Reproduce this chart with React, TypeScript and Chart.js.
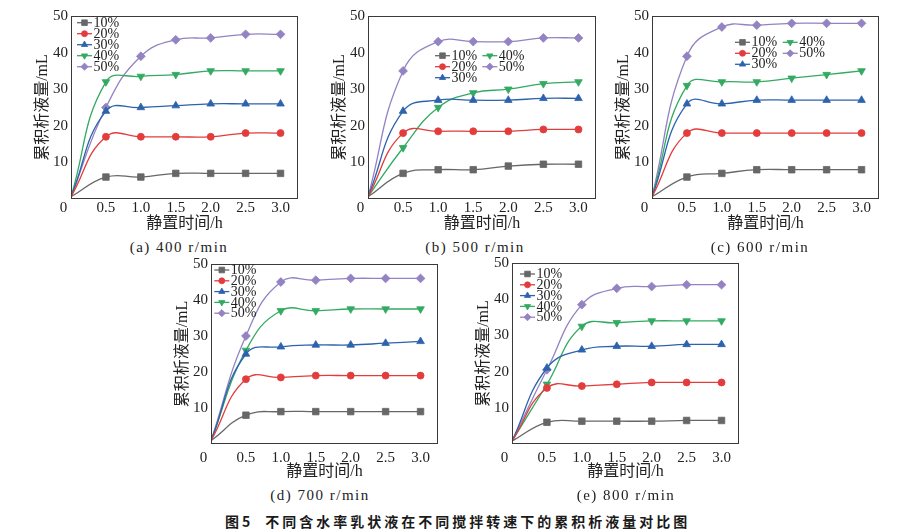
import React, { useEffect, useRef } from "react";
import { Chart, registerables } from "chart.js";
import { drawPoint } from "chart.js/helpers";

Chart.register(...registerables);

// ---------- data ----------
const hours = [0, 0.5, 1.0, 1.5, 2.0, 2.5, 3.0];
const xTickValues = [0, 0.5, 1.0, 1.5, 2.0, 2.5, 3.0];
const yTickValues = [10, 20, 30, 40, 50];
const seriesLabels = ["10%", "20%", "30%", "40%", "50%"];

// (a) 400 r/min
const a10 = [0.6, 6, 6, 7, 7, 7, 7];
const a20 = [0.6, 17, 17, 17, 17, 18, 18];
const a30 = [0.6, 24, 25, 25.5, 26, 26, 26];
const a40 = [0.6, 32, 33.5, 34, 35, 35, 35];
const a50 = [0.6, 25, 39, 43.5, 44, 45, 45];
// (b) 500 r/min
const b10 = [0.6, 7, 8, 8, 9, 9.5, 9.5];
const b20 = [0.6, 18, 18.5, 18.5, 18.5, 19, 19];
const b30 = [0.6, 24, 27, 27, 27, 27.5, 27.5];
const b40 = [0.6, 14, 25, 29, 30, 31.5, 32];
const b50 = [0.6, 35, 43, 43, 43, 44, 44];
// (c) 600 r/min
const c10 = [0.6, 6, 7, 8, 8, 8, 8];
const c20 = [0.6, 18, 18, 18, 18, 18, 18];
const c30 = [0.6, 26, 26, 27, 27, 27, 27];
const c40 = [0.6, 31, 32, 32, 33, 34, 35];
const c50 = [0.6, 39, 47, 47.5, 48, 48, 48];
// (d) 700 r/min
const d10 = [0.9, 8, 9, 9, 9, 9, 9];
const d20 = [0.9, 18, 18.5, 19, 19, 19, 19];
const d30 = [0.9, 25, 27, 27.5, 27.5, 28, 28.5];
const d40 = [0.9, 26, 37, 37, 37.5, 37.5, 37.5];
const d50 = [0.9, 30, 45, 45.5, 46, 46, 46];
// (e) 800 r/min
const e10 = [0.8, 6, 6.3, 6.3, 6.3, 6.5, 6.5];
const e20 = [0.8, 15.5, 16, 16.5, 17, 17, 17];
const e30 = [0.8, 21, 26, 27, 27, 27.5, 27.5];
const e40 = [0.8, 16.5, 32.5, 33.5, 34, 34, 34];
const e50 = [0.8, 20.5, 38.5, 43, 43.5, 44, 44];

const panelCaptions = [
  "(a) 400 r/min",
  "(b) 500 r/min",
  "(c) 600 r/min",
  "(d) 700 r/min",
  "(e) 800 r/min",
];
const xTitle = "静置时间/h";
const yTitle = "累积析液量/mL";
const figNo = "图5";
const figTitle = "不同含水率乳状液在不同搅拌转速下的累积析液量对比图";

// ---------- styles ----------
const SERIF = "'Liberation Serif', 'DejaVu Serif', serif";
const TITLE_FONT = "'Liberation Serif', 'Noto Sans CJK SC', serif";
const TEXT = "#222222";

const seriesStyles = [
  { color: "#676767", pointStyle: "rect", radius: 4.6, rotation: 0, lr: 4 },
  { color: "#e23c3c", pointStyle: "circle", radius: 3.5, rotation: 0, lr: 3 },
  { color: "#2d63ad", pointStyle: "triangle", radius: 4.4, rotation: 0, lr: 3.6 },
  { color: "#33aa62", pointStyle: "triangle", radius: 4.4, rotation: 180, lr: 3.6 },
  { color: "#9483c3", pointStyle: "rectRot", radius: 4.4, rotation: 0, lr: 3.6 },
];

type Panel = {
  series: number[][];
  caption: string;
  plot: { l: number; r: number; t: number; b: number };
  cap: { x: number; y: number };
  legend: { dx: number; dy: number; rows: number; colW: number; rowH: number };
  tickPad: number;
  xH: number;
  titlePad: number;
};

const panels: Panel[] = [
  {
    series: [a10, a20, a30, a40, a50],
    caption: panelCaptions[0],
    plot: { l: 71, r: 298, t: 16, b: 199 },
    cap: { x: 179, y: 246.5 },
    legend: { dx: 6, dy: 6.7, rows: 5, colW: 0, rowH: 11 },
    tickPad: 0,
    xH: 36,
    titlePad: 1.4,
  },
  {
    series: [b10, b20, b30, b40, b50],
    caption: panelCaptions[1],
    plot: { l: 368, r: 596, t: 16, b: 199 },
    cap: { x: 475, y: 246.5 },
    legend: { dx: 67, dy: 39.7, rows: 3, colW: 47.3, rowH: 11 },
    tickPad: 0,
    xH: 36,
    titlePad: 1.4,
  },
  {
    series: [c10, c20, c30, c40, c50],
    caption: panelCaptions[2],
    plot: { l: 652, r: 879, t: 16, b: 199 },
    cap: { x: 760, y: 246.5 },
    legend: { dx: 83, dy: 26.3, rows: 3, colW: 47.7, rowH: 11 },
    tickPad: 0,
    xH: 36,
    titlePad: 1.4,
  },
  {
    series: [d10, d20, d30, d40, d50],
    caption: panelCaptions[3],
    plot: { l: 211, r: 438, t: 264, b: 444 },
    cap: { x: 320, y: 495 },
    legend: { dx: 3.3, dy: 6, rows: 5, colW: 0, rowH: 10.8 },
    tickPad: 5,
    xH: 40,
    titlePad: 2.4,
  },
  {
    series: [e10, e20, e30, e40, e50],
    caption: panelCaptions[4],
    plot: { l: 512, r: 739, t: 263, b: 444 },
    cap: { x: 626, y: 495 },
    legend: { dx: 8, dy: 11, rows: 5, colW: 0, rowH: 10.8 },
    tickPad: 5,
    xH: 40,
    titlePad: 2.4,
  },
];

const Y_W = 50;
const PAD_TOP = 12;
const PAD_RIGHT = 12;

function ChartPanel({ p }: { p: Panel }) {
  const ref = useRef<HTMLCanvasElement | null>(null);
  const width = p.plot.r - p.plot.l + Y_W + PAD_RIGHT;
  const height = p.plot.b - p.plot.t + PAD_TOP + p.xH;

  useEffect(() => {
    if (!ref.current) return;

    const framePlugin = {
      id: "frameAndLegend",
      afterDraw(chart: any) {
        const ctx = chart.ctx;
        const { left, top, right, bottom } = chart.chartArea;
        ctx.save();
        ctx.strokeStyle = "#3a3a3a";
        ctx.lineWidth = 1;
        const L = Math.round(left) + 0.5;
        const T = Math.round(top) + 0.5;
        const R = Math.round(right) - 0.5;
        const B = Math.round(bottom) - 0.5;
        ctx.strokeRect(L, T, R - L, B - T);

        // legend
        const lg = p.legend;
        chart.data.datasets.forEach((ds: any, i: number) => {
          const st = seriesStyles[i];
          const col = Math.floor(i / lg.rows);
          const row = i % lg.rows;
          const x0 = left + lg.dx + col * lg.colW;
          const y = top + lg.dy + row * lg.rowH;
          ctx.strokeStyle = st.color;
          ctx.lineWidth = 1.3;
          ctx.beginPath();
          ctx.moveTo(x0, y);
          ctx.lineTo(x0 + 15, y);
          ctx.stroke();
          ctx.fillStyle = st.color;
          ctx.strokeStyle = st.color;
          ctx.lineWidth = 0.8;
          drawPoint(
            ctx,
            { pointStyle: st.pointStyle, rotation: st.rotation, radius: st.lr, borderWidth: 0.8 } as any,
            x0 + 7.5,
            y
          );
          ctx.fillStyle = TEXT;
          ctx.font = `14px ${SERIF}`;
          ctx.textAlign = "left";
          ctx.textBaseline = "middle";
          ctx.fillText(ds.label, x0 + 16.5, y + 0.5);
        });
        ctx.restore();
      },
    };

    const chart = new Chart(ref.current, {
      type: "line",
      data: {
        datasets: p.series.map((vals, i) => {
          const st = seriesStyles[i];
          return {
            label: seriesLabels[i],
            data: hours.map((h, k) => ({ x: h, y: vals[k] })),
            borderColor: st.color,
            backgroundColor: st.color,
            borderWidth: 1.3,
            tension: 0.45,
            fill: false,
            pointStyle: st.pointStyle as any,
            pointRotation: st.rotation,
            pointRadius: (c: any) => (c.dataIndex === 0 ? 0 : st.radius),
            pointHoverRadius: (c: any) => (c.dataIndex === 0 ? 0 : st.radius),
            pointBackgroundColor: st.color,
            pointBorderColor: st.color,
            pointBorderWidth: 0.8,
          };
        }),
      },
      options: {
        animation: false,
        responsive: true,
        maintainAspectRatio: false,
        events: [],
        layout: { padding: { left: 0, top: PAD_TOP, right: PAD_RIGHT, bottom: 0 } },
        plugins: {
          legend: { display: false },
          tooltip: { enabled: false },
          title: { display: false },
        },
        scales: {
          x: {
            type: "linear",
            min: 0,
            max: 3.25,
            grid: { display: false, drawTicks: false },
            border: { display: false },
            afterBuildTicks: (s: any) => {
              s.ticks = xTickValues.map((v) => ({ value: v }));
            },
            afterFit: (s: any) => {
              s.height = p.xH;
              s.paddingLeft = 0;
              s.paddingRight = 0;
            },
            ticks: {
              padding: p.tickPad,
              color: TEXT,
              autoSkip: false,
              maxRotation: 0,
              minRotation: 0,
              font: { family: SERIF, size: 15 },
              callback: (v: any) => (Number(v) === 0 ? "0    " : Number(v).toFixed(1)),
            },
            title: {
              display: true,
              text: xTitle,
              color: TEXT,
              font: { family: TITLE_FONT, size: 16 },
              padding: { top: 0, bottom: p.titlePad },
            },
          },
          y: {
            type: "linear",
            min: 0,
            max: 50,
            grid: { display: false, drawTicks: false },
            border: { display: false },
            afterBuildTicks: (s: any) => {
              s.ticks = yTickValues.map((v) => ({ value: v }));
            },
            afterFit: (s: any) => {
              s.width = Y_W;
              s.paddingTop = 0;
              s.paddingBottom = 0;
            },
            ticks: {
              padding: 3,
              color: TEXT,
              font: { family: SERIF, size: 15 },
              callback: (v: any) => String(v),
            },
            title: {
              display: true,
              text: yTitle,
              color: TEXT,
              font: { family: TITLE_FONT, size: 16 },
              padding: { top: 12.4, bottom: 0 },
            },
          },
        },
      } as any,
      plugins: [framePlugin],
    });
    return () => chart.destroy();
  }, []);

  return (
    <>
      <div
        style={{
          position: "absolute",
          left: p.plot.l - Y_W,
          top: p.plot.t - PAD_TOP,
          width,
          height,
        }}
      >
        <canvas ref={ref} />
      </div>
      <div
        style={{
          position: "absolute",
          left: p.cap.x - 100,
          top: p.cap.y - 10,
          width: 200,
          height: 20,
          lineHeight: "20px",
          textAlign: "center",
          fontFamily: SERIF,
          fontSize: 15,
          letterSpacing: 1.5,
          color: TEXT,
          whiteSpace: "nowrap",
        }}
      >
        {p.caption}
      </div>
    </>
  );
}

export default function App() {
  return (
    <div
      style={{
        position: "absolute",
        left: 0,
        top: 0,
        width: 899,
        height: 530,
        background: "#ffffff",
        overflow: "hidden",
      }}
    >
      {panels.map((p, i) => (
        <ChartPanel key={i} p={p} />
      ))}
      <div
        style={{
          position: "absolute",
          left: 225,
          top: 511,
          height: 20,
          lineHeight: "20px",
          fontFamily: "'Noto Sans CJK SC', sans-serif",
          fontWeight: 700,
          fontSize: 14,
          letterSpacing: 3,
          color: "#1a1a1a",
          whiteSpace: "nowrap",
        }}
      >
        <span>{figNo}</span>
        <span style={{ marginLeft: 12 }}>{figTitle}</span>
      </div>
    </div>
  );
}
